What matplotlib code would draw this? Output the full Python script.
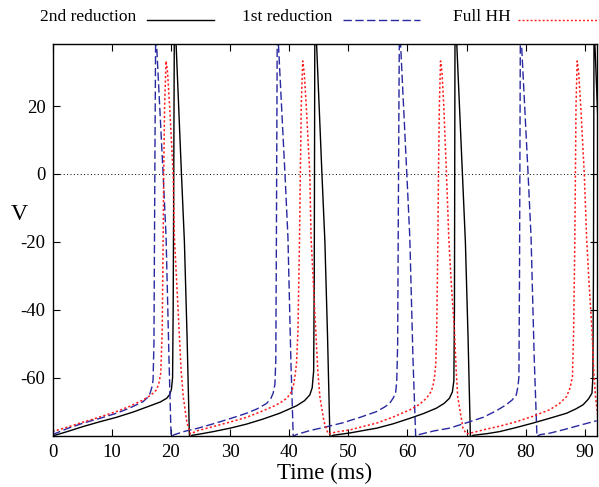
import numpy as np
import matplotlib
matplotlib.use("Agg")
import matplotlib.pyplot as plt
from matplotlib.lines import Line2D

plt.rcParams['font.family'] = ['Liberation Serif', 'DejaVu Serif']
plt.rcParams['axes.unicode_minus'] = False

# membrane potential traces, (time ms, V mV)
second_red = [
    (0, -77.2), (2.5, -75.9), (5.2, -74.4), (8.0, -73.0), (10.8, -71.7), (13.7, -70.1), (16.5, -68.3),
    (18.2, -67.2), (19.3, -66.1), (19.8, -65.0), (20.1, -63.5), (20.3, -60.0), (20.4, -40.0), (20.5, 0.0),
    (20.6, 45.0), (20.9, 38.0), (21.8, 0.0), (22.3, -20.0), (22.75, -48.0), (23.15, -77.6),
    (23.6, -77.0), (25.0, -76.6), (27.2, -75.9), (30.0, -74.9), (32.8, -73.7), (35.6, -72.2), (38.4, -70.5),
    (41.25, -68.3), (42.6, -66.8), (43.5, -65.1), (43.9, -63.0), (44.15, -58.0), (44.25, -30.0), (44.35, 45.0),
    (44.65, 38.0), (45.55, 0.0), (46.05, -20.0), (46.5, -48.0), (46.9, -77.6),
    (47.4, -77.0), (50.3, -76.3), (52.5, -75.6), (54.8, -74.9), (57.6, -73.6), (60.4, -72.0), (62.7, -70.6),
    (64.9, -69.0), (66.2, -67.6), (67.1, -66.1), (67.6, -64.2), (67.85, -61.0), (67.95, -40.0), (68.05, 45.0),
    (68.35, 38.0), (69.3, 0.0), (69.8, -20.0), (70.25, -48.0), (70.65, -77.6),
    (71.1, -77.0), (73.5, -76.5), (75.6, -75.9), (78.4, -74.7), (81.2, -73.4), (84.0, -72.0), (86.9, -70.5),
    (88.5, -69.2), (89.7, -68.0), (90.6, -66.3), (91.2, -64.6), (91.35, -60.0), (91.45, -30.0), (91.55, 45.0),
    (91.7, 38.0), (92.2, 16.0),
]

first_red = [
    (0, -76.8), (2.5, -75.0), (5.2, -73.4), (8.0, -72.0), (10.8, -70.5), (13.0, -69.0), (15.3, -67.1),
    (16.1, -65.8), (16.5, -64.6), (16.85, -62.5), (17.0, -60.7), (17.15, -50.0), (17.3, 0.0), (17.45, 45.0),
    (17.6, 38.0), (18.7, 0.0), (19.2, -18.5), (19.7, -55.0), (20.05, -77.4),
    (20.6, -76.8), (22.4, -75.8), (24.6, -74.9), (27.2, -73.6), (30.0, -72.1), (32.8, -70.5), (34.6, -69.2),
    (36.2, -67.6), (36.9, -66.2), (37.3, -64.6), (37.6, -62.0), (37.75, -55.0), (37.85, -20.0), (38.0, 45.0),
    (38.2, 38.0), (39.3, 0.0), (39.8, -18.5), (40.3, -55.0), (40.7, -77.4),
    (41.2, -76.8), (43.5, -75.6), (46.3, -74.5), (49.1, -73.3), (52.0, -71.7), (54.8, -70.0), (56.2, -68.6),
    (57.0, -67.6), (57.6, -66.0), (58.0, -64.6), (58.2, -61.0), (58.35, -50.0), (58.5, 0.0), (58.65, 45.0),
    (58.85, 38.0), (59.9, 0.0), (60.4, -18.5), (60.95, -55.0), (61.4, -77.4),
    (61.9, -76.8), (64.5, -75.7), (67.1, -74.9), (70.0, -73.3), (72.8, -71.7), (75.0, -69.8), (76.7, -68.0),
    (77.7, -66.6), (78.4, -65.1), (78.7, -62.5), (78.85, -59.7), (78.95, -30.0), (79.1, 45.0),
    (79.3, 38.0), (80.4, 0.0), (80.9, -18.5), (81.45, -55.0), (81.9, -77.4),
    (82.4, -76.8), (84.0, -76.4), (86.5, -75.3), (89.0, -74.1), (92.0, -72.7),
]

full_hh = [
    (0, -75.9), (2.5, -74.6), (5.2, -73.1), (8.0, -71.6), (10.8, -70.0), (13.0, -68.5), (15.3, -66.6),
    (16.6, -65.2), (17.6, -63.6), (18.0, -61.5), (18.3, -58.7), (18.55, -46.0), (18.7, -20.0), (18.8, 0.0),
    (18.95, 20.0), (19.2, 33.3), (19.45, 30.0), (19.8, 20.0), (20.4, 0.0), (20.6, -18.5), (21.0, -32.0),
    (21.4, -46.0), (21.75, -58.0), (22.1, -65.6), (22.7, -73.0), (23.3, -76.6),
    (24.6, -75.6), (27.2, -74.4), (30.0, -73.1), (32.8, -71.7), (35.0, -70.2), (37.3, -68.5), (38.6, -67.3),
    (39.6, -66.1), (40.3, -64.5), (40.7, -62.7), (41.0, -59.5), (41.25, -55.8), (41.5, -46.0), (41.75, -20.0),
    (41.9, 0.0), (42.05, 20.0), (42.3, 33.3), (42.55, 30.0), (42.9, 20.0), (43.5, 0.0), (43.7, -18.5),
    (44.1, -32.0), (44.5, -46.0), (44.85, -58.0), (45.2, -65.6), (45.9, -73.0), (46.6, -76.6),
    (48.0, -76.0), (50.3, -75.4), (52.5, -74.4), (54.8, -73.4), (57.6, -71.6), (60.4, -69.5), (62.0, -67.9),
    (63.2, -66.1), (63.9, -64.4), (64.3, -62.7), (64.6, -59.5), (64.8, -55.8), (64.95, -46.0), (65.15, -20.0),
    (65.25, 0.0), (65.4, 20.0), (65.6, 33.3), (65.85, 30.0), (66.15, 20.0), (66.6, 0.0), (67.0, -19.0),
    (67.4, -32.0), (67.95, -46.0), (68.25, -58.0), (68.5, -65.6), (69.4, -75.0), (70.0, -76.6),
    (71.5, -76.0), (72.8, -75.4), (75.6, -74.3), (78.4, -73.0), (81.2, -71.4), (84.0, -69.5), (85.6, -67.8),
    (86.9, -65.6), (87.5, -63.0), (87.9, -59.7), (88.1, -46.0), (88.3, -20.0), (88.4, 0.0), (88.5, 20.0),
    (88.7, 33.3), (88.95, 30.0), (89.3, 20.0), (89.9, 0.0), (90.3, -19.0), (90.7, -32.0), (91.2, -46.0),
    (91.5, -58.0), (91.8, -65.6), (92.3, -73.0),
]

xticks = [0, 10, 20, 30, 40, 50, 60, 70, 80, 90]
yticks = [20, 0, -20, -40, -60]

W, H = 599, 487
fig = plt.figure(figsize=(W / 100, H / 100), dpi=100)
ax = fig.add_axes([52.5 / W, 1 - 436 / H, (596.7 - 52.5) / W, (436 - 44) / H])

blue = '#2828a0'
red = '#ff1a1a'
dash = (0, (6, 2.5))
dots = (0, (1.4, 1.5))

ax.axhline(0, color='black', lw=0.7, linestyle=(0, (1, 2.5)))

t, v = np.array(second_red).T
ax.plot(t, v, color='black', lw=1.0)
t, v = np.array(first_red).T
ax.plot(t, v, color=blue, lw=1.0, linestyle=dash)
t, v = np.array(full_hh).T
ax.plot(t, v, color=red, lw=1.1, linestyle=dots)

ax.set_xlim(0, 92)
ax.set_ylim(-77.2, 38.3)
ax.set_xticks(xticks)
ax.set_yticks(yticks)
ax.tick_params(direction='in', top=True, right=True, length=5, width=0.8, labelsize=13.5, color='black')
ax.tick_params(axis='x', pad=6)
ax.tick_params(axis='y', pad=5)
for s in ax.spines.values():
    s.set_linewidth(1.0)

ax.set_xlabel('Time (ms)', fontsize=16.5, labelpad=1)
fig.text(19 / W, 1 - 215 / H, 'V', fontsize=17, ha='center', va='center')

# gnuplot style key along the top
entries = [('2nd reduction', 136, 147, 214, 'black', '-'),
           ('1st reduction', 332, 343, 420, blue, dash),
           ('Full HH', 511, 518, 599, red, dots)]
for label, tx, x0, x1, c, ls in entries:
    fig.text(tx / W, 1 - 17 / H, label, fontsize=12.5, ha='right', va='center')
    fig.add_artist(Line2D([x0 / W, x1 / W], [1 - 20 / H, 1 - 20 / H], color=c, lw=1.0,
                          linestyle=ls, transform=fig.transFigure))

fig.savefig('out.png', dpi=100)
